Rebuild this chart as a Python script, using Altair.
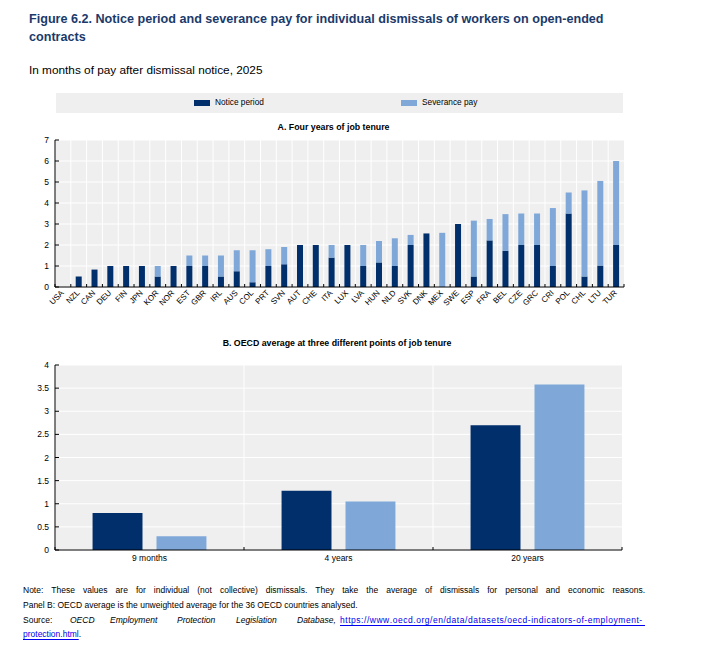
import altair as alt
import pandas as pd

# ---------------- data ----------------
# Panel A: four years of job tenure, months of pay by country
countries = ["USA", "NZL", "CAN", "DEU", "FIN", "JPN", "KOR", "NOR", "EST", "GBR",
             "IRL", "AUS", "COL", "PRT", "SVN", "AUT", "CHE", "ITA", "LUX", "LVA",
             "HUN", "NLD", "SVK", "DNK", "MEX", "SWE", "ESP", "FRA", "BEL", "CZE",
             "GRC", "CRI", "POL", "CHL", "LTU", "TUR"]
notice_4y = [0, 0.5, 0.83, 1, 1, 1, 0.5, 1, 1, 1,
             0.5, 0.75, 0.23, 1, 1.08, 2, 2, 1.4, 2, 1,
             1.17, 1, 2, 2.55, 0, 3, 0.5, 2.22, 1.72, 2,
             2, 1, 3.5, 0.5, 1.02, 2]
severance_4y = [0, 0, 0, 0, 0, 0, 0.5, 0, 0.5, 0.5,
                1, 1, 1.52, 0.8, 0.82, 0, 0, 0.6, 0, 1,
                1.02, 1.32, 0.48, 0, 2.58, 0, 2.66, 1.02, 1.75, 1.5,
                1.5, 2.76, 1.0, 4.1, 4.03, 4.0]

# Panel B: OECD average at three tenure points
tenures = ["9 months", "4 years", "20 years"]
notice_avg = [0.8, 1.28, 2.7]
severance_avg = [0.3, 1.05, 3.58]

series = ["Notice period", "Severance pay"]
palette = ["#002F6C", "#7FA8D9"]

y_ticks_a = [0, 1, 2, 3, 4, 5, 6, 7]
y_ticks_b = [0, 0.5, 1, 1.5, 2, 2.5, 3, 3.5, 4]

# ---------------- styling ----------------
FONT = "Liberation Sans, Arial, sans-serif"
PANEL_BG = "#EFEFEF"
INK = "#000000"
TITLE_BLUE = "#1B3A6B"
LINK_BLUE = "#0000EE"

WA, HA = 569, 147      # panel A plot area
WB, HB = 567, 185      # panel B plot area
AX, AY = 49, 140       # panel A origin on the page
BX, BY = 55, 365       # panel B origin on the page

# Arial / Liberation Sans advance widths (1/1000 em), used to lay out justified lines
_W = {" ": 278, "!": 278, "(": 333, ")": 333, ",": 278, "-": 333, ".": 278, "/": 278,
      ":": 278, "0": 556, "1": 556, "2": 556, "3": 556, "4": 556, "5": 556, "6": 556,
      "7": 556, "8": 556, "9": 556,
      "A": 667, "B": 667, "C": 722, "D": 722, "E": 667, "F": 611, "G": 778, "H": 722,
      "I": 278, "J": 500, "K": 667, "L": 556, "M": 833, "N": 722, "O": 778, "P": 667,
      "Q": 778, "R": 722, "S": 667, "T": 611, "U": 722, "V": 667, "W": 944, "X": 667,
      "Y": 667, "Z": 611,
      "a": 556, "b": 556, "c": 500, "d": 556, "e": 556, "f": 278, "g": 556, "h": 556,
      "i": 222, "j": 222, "k": 500, "l": 222, "m": 833, "n": 556, "o": 556, "p": 556,
      "q": 556, "r": 333, "s": 500, "t": 278, "u": 556, "v": 500, "w": 722, "x": 500,
      "y": 500, "z": 500}


def width_of(s, size):
    return sum(_W.get(ch, 556) for ch in s) * size / 1000.0


one = pd.DataFrame({"k": [0]})


def text(t, x, y, size, weight="normal", color=INK, align="left", style="normal"):
    return alt.Chart(one).mark_text(
        x=x, y=y, fontSize=size, fontWeight=weight, color=color, align=align,
        baseline="middle", fontStyle=style, font=FONT,
    ).encode(text=alt.value(t))


def hrule(x1, x2, y, color=INK, width=1):
    return alt.Chart(one).mark_rule(color=color, strokeWidth=width).encode(
        x=alt.value(x1), x2=alt.value(x2), y=alt.value(y))


def vrule(x, y1, y2, color=INK, width=1):
    return alt.Chart(one).mark_rule(color=color, strokeWidth=width).encode(
        x=alt.value(x), y=alt.value(y1), y2=alt.value(y2))


def box(x1, x2, y1, y2, color):
    return alt.Chart(one).mark_rect(color=color).encode(
        x=alt.value(x1), x2=alt.value(x2), y=alt.value(y1), y2=alt.value(y2))


def justified(line, x_left, x_right, y, size):
    """Spread the words of one line so it fills x_left..x_right."""
    words = line.split(" ")
    natural = sum(width_of(w, size) for w in words)
    gap = (x_right - x_left - natural) / (len(words) - 1)
    layers, x = [], x_left
    for w in words:
        layers.append(text(w, x, y, size))
        x += width_of(w, size) + gap
    return layers


def spaced(word, x_left, x_right, y, size, color):
    """Letter-space a single long word so it fills x_left..x_right."""
    natural = width_of(word, size)
    extra = (x_right - x_left - natural) / (len(word) - 1)
    layers, x = [], x_left
    for ch in word:
        layers.append(text(ch, x, y, size, color=color))
        x += width_of(ch, size) + extra
    return layers


color_scale = alt.Scale(domain=series, range=palette)


def frame(x_field, x_scale, ticks_y, y_scale, w, h, y_label_size, cats):
    """Panel background, white grid, inward ticks, axis lines and tick labels."""
    ydf = pd.DataFrame({"v": ticks_y})
    xdf = pd.DataFrame({x_field: cats})
    yenc = alt.Y("v:Q", scale=y_scale, axis=None)
    xstart = alt.X(f"{x_field}:N", bandPosition=0, scale=x_scale, axis=None)
    back = [
        box(0, w, 0, h, PANEL_BG),
        alt.Chart(ydf).mark_rule(color="white").encode(y=yenc, x=alt.value(0), x2=alt.value(w)),
        alt.Chart(xdf).mark_rule(color="white").encode(x=xstart, y=alt.value(0), y2=alt.value(h)),
    ]
    front = [
        alt.Chart(ydf).mark_rule(color=INK).encode(y=yenc, x=alt.value(0), x2=alt.value(4)),
        alt.Chart(xdf).mark_rule(color=INK).encode(x=xstart, y=alt.value(h), y2=alt.value(h - 3)),
        vrule(w, h, h - 3),
        vrule(0, 0, h),
        hrule(0, w, h),
        alt.Chart(ydf).mark_text(align="right", baseline="middle", fontSize=y_label_size,
                                 font=FONT, color=INK).encode(
            y=yenc, x=alt.value(-6), text=alt.Text("v:Q", format="~g")),
    ]
    return back, front


# ---------------- panel A ----------------
rows_a = []
for c, n, s in zip(countries, notice_4y, severance_4y):
    rows_a.append({"country": c, "series": series[0], "lo": 0, "hi": n})
    rows_a.append({"country": c, "series": series[1], "lo": n, "hi": n + s})
df_a = pd.DataFrame(rows_a)

x_a = alt.Scale(domain=countries, paddingInner=0, paddingOuter=0)
y_a = alt.Scale(domain=[0, 7], nice=False)

bars_a = alt.Chart(df_a).mark_bar(width=alt.RelativeBandSize(0.38)).encode(
    x=alt.X("country:N", scale=x_a, axis=None),
    y=alt.Y("lo:Q", scale=y_a, axis=None),
    y2="hi:Q",
    color=alt.Color("series:N", scale=color_scale, legend=None),
)

country_labels = alt.Chart(pd.DataFrame({"country": countries})).mark_text(
    angle=315, align="right", baseline="middle", fontSize=8, font=FONT, color=INK,
).encode(x=alt.X("country:N", scale=x_a, axis=None), y=alt.value(HA + 5), text="country:N")

back_a, front_a = frame("country", x_a, y_ticks_a, y_a, WA, HA, 8.5, countries)

TITLE_SIZE = 12.6
panel_a = alt.layer(
    # page anchors (top-left corner and gap to panel B)
    box(-AX, -AX + 1, -AY, -AY + 1, "white"),
    box(-AX, -AX + 1, 330 - AY - 1, 330 - AY, "white"),
    # figure title and subtitle
    text("Figure 6.2. Notice period and severance pay for individual dismissals of workers on open-ended",
         23 - AX, 19 - AY, TITLE_SIZE, weight="bold", color=TITLE_BLUE),
    text("contracts", 23 - AX, 37 - AY, TITLE_SIZE, weight="bold", color=TITLE_BLUE),
    text("In months of pay after dismissal notice, 2025", 23 - AX, 70 - AY, 11.8),
    # legend strip
    box(50 - AX, 617 - AX, 93 - AY, 113 - AY, PANEL_BG),
    box(188 - AX, 204 - AX, 100 - AY, 106 - AY, palette[0]),
    text(series[0], 209 - AX, 103 - AY, 8.3),
    box(395 - AX, 411 - AX, 100 - AY, 106 - AY, palette[1]),
    text(series[1], 416 - AX, 103 - AY, 8.3),
    # panel title
    text("A. Four years of job tenure", 327.5 - AX, 127 - AY, 8.8, weight="bold", align="center"),
    *back_a,
    bars_a,
    *front_a,
    country_labels,
).properties(width=WA, height=HA)

# ---------------- panel B ----------------
rows_b = []
for t, n, s in zip(tenures, notice_avg, severance_avg):
    rows_b.append({"tenure": t, "series": series[0], "value": n})
    rows_b.append({"tenure": t, "series": series[1], "value": s})
df_b = pd.DataFrame(rows_b)

x_b = alt.Scale(domain=tenures, paddingInner=0, paddingOuter=0)
y_b = alt.Scale(domain=[0, 4], nice=False)

bars_b = alt.Chart(df_b).mark_bar().encode(
    x=alt.X("tenure:N", scale=x_b, axis=None),
    xOffset=alt.XOffset("series:N",
                        scale=alt.Scale(domain=series, paddingInner=0.219, paddingOuter=0.5875)),
    y=alt.Y("value:Q", scale=y_b, axis=None),
    color=alt.Color("series:N", scale=color_scale, legend=None),
)

tenure_labels = alt.Chart(pd.DataFrame({"tenure": tenures})).mark_text(
    align="center", baseline="middle", fontSize=8.5, font=FONT, color=INK,
).encode(x=alt.X("tenure:N", scale=x_b, axis=None), y=alt.value(HB + 8), text="tenure:N")

back_b, front_b = frame("tenure", x_b, y_ticks_b, y_b, WB, HB, 8.5, tenures)

FOOT = 8.5
note_1 = ("Note: These values are for individual (not collective) dismissals. They take the average "
          "of dismissals for personal and economic reasons.")
note_2 = "Panel B: OECD average is the unweighted average for the 36 OECD countries analysed."
link_1 = "https://www.oecd.org/en/data/datasets/oecd-indicators-of-employment-"
link_2 = "protection.html"

footer = justified(note_1, 23 - BX, 645 - BX, 590 - BY, FOOT)
footer += [
    text(note_2, 23 - BX, 605 - BY, FOOT),
    text("Source:", 23 - BX, 620 - BY, FOOT),
    text("OECD", 70 - BX, 620 - BY, FOOT, style="italic"),
    text("Employment", 110 - BX, 620 - BY, FOOT, style="italic"),
    text("Protection", 177 - BX, 620 - BY, FOOT, style="italic"),
    text("Legislation", 236 - BX, 620 - BY, FOOT, style="italic"),
    text("Database,", 297 - BX, 620 - BY, FOOT, style="italic"),
    hrule(340 - BX, 645 - BX, 625.5 - BY, color=LINK_BLUE),
    text(link_2, 23 - BX, 634 - BY, FOOT, color=LINK_BLUE),
    hrule(23 - BX, 23 - BX + width_of(link_2, FOOT), 639.5 - BY, color=LINK_BLUE),
    text(".", 23 - BX + width_of(link_2, FOOT), 634 - BY, FOOT),
]
footer += spaced(link_1, 340 - BX, 645 - BX - width_of("-", FOOT), 620 - BY, FOOT, LINK_BLUE)

panel_b = alt.layer(
    box(-BX, -BX + 1, 330 - BY, 330 - BY + 1, "white"),
    text("B. OECD average at three different points of job tenure", 337 - BX, 343 - BY, 8.8,
         weight="bold", align="center"),
    *back_b,
    bars_b,
    *front_b,
    tenure_labels,
    *footer,
).properties(width=WB, height=HB)

chart = alt.concat(
    panel_a, panel_b, columns=1, spacing=0, align="none", bounds="full",
).properties(
    padding=0, background="white",
).configure(font=FONT).configure_view(strokeWidth=0)

chart.save("out.html", embed_options={"renderer": "svg", "actions": False})
